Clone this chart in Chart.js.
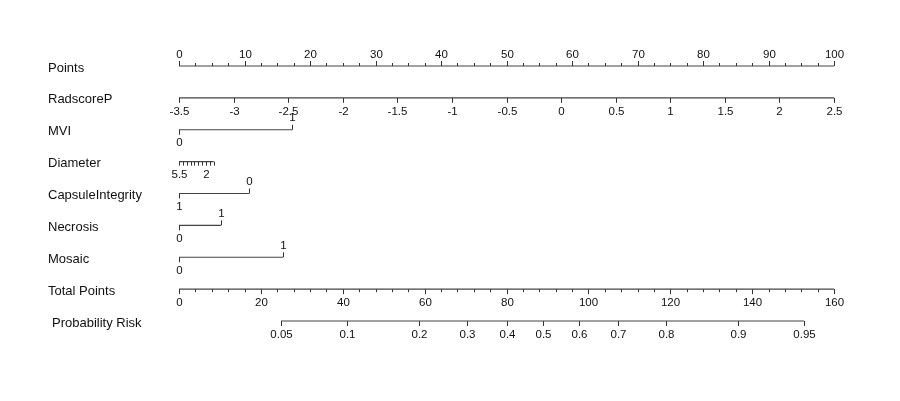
<!DOCTYPE html>
<html>
<head>
<meta charset="utf-8">
<script src="https://cdn.jsdelivr.net/npm/chart.js@4.4.1/dist/chart.umd.min.js"></script>
<style>
  html, body { margin: 0; padding: 0; background: #fff; }
</style>
</head>
<body>
<canvas id="nomo" width="900" height="401"></canvas>
<script>
// row names, top to bottom
const rowLabels = ['Points', 'RadscoreP', 'MVI', 'Diameter', 'CapsuleIntegrity', 'Necrosis', 'Mosaic', 'Total Points', 'Probability Risk'];

// Points axis (0..100)
const pointTicks = [0, 10, 20, 30, 40, 50, 60, 70, 80, 90, 100];
const pointMinorStep = 2.5;

// RadscoreP: -3.5 -> 0 points, 2.5 -> 100 points
const radscoreTicks = [-3.5, -3, -2.5, -2, -1.5, -1, -0.5, 0, 0.5, 1, 1.5, 2, 2.5];
const radscoreRange = [-3.5, 2.5];

// categorical predictors: level label and its points
const mviLevels = ['0', '1'];
const mviPoints = [0, 17.3];
const capsuleLevels = ['1', '0'];
const capsulePoints = [0, 10.7];
const necrosisLevels = ['0', '1'];
const necrosisPoints = [0, 6.4];
const mosaicLevels = ['0', '1'];
const mosaicPoints = [0, 15.9];

// Diameter (reversed): 5.5 -> 0 points, 1 -> 5.3 points
const diameterTicks = [5.5, 5, 4.5, 4, 3.5, 3, 2.5, 2, 1.5, 1];
const diameterShown = [5.5, 2];
const diameterRange = [5.5, 1];
const diameterPoints = [0, 5.3];

// Total points (0..160)
const totalTicks = [0, 20, 40, 60, 80, 100, 120, 140, 160];
const totalMinorStep = 4;
const totalMax = 160;

// Probability risk on the total points scale (logistic)
const riskTicks = [0.05, 0.1, 0.2, 0.3, 0.4, 0.5, 0.6, 0.7, 0.8, 0.9, 0.95];
const riskMidTotal = 88.8;   // total points at risk 0.5
const riskSlope = 21.7;      // total points per logit unit

// --- conversions to the Points scale ---
function fromRadscore(v) {
    return (v - radscoreRange[0]) / (radscoreRange[1] - radscoreRange[0]) * 100;
}
function fromDiameter(v) {
    return (diameterRange[0] - v) / (diameterRange[0] - diameterRange[1]) * diameterPoints[1];
}
function fromTotal(t) {
    return t / totalMax * 100;
}
function fromRisk(p) {
    return fromTotal(riskMidTotal + riskSlope * Math.log(p / (1 - p)));
}

// tick rows: row index, ticks {x, label, dir (-1 up, 1 down), len}
function buildTickRows() {
    const rows = [];

    let t = [];
    for (let v = 0; v <= 100; v += pointMinorStep) {
        const major = pointTicks.includes(v);
        t.push({ x: v, label: major ? String(v) : '', dir: -1, len: major ? 5 : 3 });
    }
    rows.push({ row: 0, ticks: t });

    rows.push({ row: 1, ticks: radscoreTicks.map(v => ({ x: fromRadscore(v), label: String(v), dir: 1, len: 5 })) });

    const binary = (row, levels, pts) => ({
        row: row,
        ticks: levels.map((l, i) => ({ x: pts[i], label: l, dir: i === 0 ? 1 : -1, len: 5 }))
    });
    rows.push(binary(2, mviLevels, mviPoints));

    rows.push({ row: 3, ticks: diameterTicks.map(v => ({
        x: fromDiameter(v), label: diameterShown.includes(v) ? String(v) : '', dir: 1, len: 4
    })) });

    rows.push(binary(4, capsuleLevels, capsulePoints));
    rows.push(binary(5, necrosisLevels, necrosisPoints));
    rows.push(binary(6, mosaicLevels, mosaicPoints));

    t = [];
    for (let v = 0; v <= totalMax; v += totalMinorStep) {
        const major = totalTicks.includes(v);
        t.push({ x: fromTotal(v), label: major ? String(v) : '', dir: 1, len: major ? 5 : 3 });
    }
    rows.push({ row: 7, ticks: t });

    rows.push({ row: 8, ticks: riskTicks.map(p => ({ x: fromRisk(p), label: String(p), dir: 1, len: 5 })) });
    return rows;
}
const tickRows = buildTickRows();

// axis line per row: from first to last tick
function axisDataset(r) {
    const xs = r.ticks.map(k => k.x);
    return {
        data: [{ x: Math.min(...xs), y: r.row }, { x: Math.max(...xs), y: r.row }],
        borderColor: '#444',
        borderWidth: 1.2,
        pointRadius: 0,
        showLine: true,
        clip: false
    };
}

const nomogramPlugin = {
    id: 'nomogram',
    afterDatasetsDraw(chart) {
        const ctx = chart.ctx;
        const xs = chart.scales.x;
        const ys = chart.scales.y;
        ctx.save();

        ctx.fillStyle = '#111';
        ctx.textBaseline = 'middle';
        ctx.textAlign = 'left';
        ctx.font = '13px "Liberation Sans", Arial, sans-serif';
        rowLabels.forEach((name, i) => {
            const indent = i === rowLabels.length - 1 ? 4 : 0;
            ctx.fillText(name, 48 + indent, ys.getPixelForValue(i) + 2);
        });

        ctx.strokeStyle = '#333';
        ctx.lineWidth = 1;
        ctx.textAlign = 'center';
        ctx.font = '11.5px "Liberation Sans", Arial, sans-serif';
        tickRows.forEach(r => {
            const y = ys.getPixelForValue(r.row);
            r.ticks.forEach(k => {
                const x = Math.round(xs.getPixelForValue(k.x)) + 0.5;
                ctx.beginPath();
                ctx.moveTo(x, y);
                ctx.lineTo(x, y + k.dir * k.len);
                ctx.stroke();
                if (k.label) {
                    ctx.fillText(k.label, x, y + (k.dir > 0 ? 13.5 : -11.5));
                }
            });
        });
        ctx.restore();
    }
};

new Chart(document.getElementById('nomo'), {
    type: 'scatter',
    data: { datasets: tickRows.map(axisDataset) },
    options: {
        responsive: false,
        animation: false,
        devicePixelRatio: 1,
        layout: { padding: { left: 179, right: 66, top: 66, bottom: 80 } },
        plugins: { legend: { display: false }, tooltip: { enabled: false } },
        scales: {
            x: { type: 'linear', min: 0, max: 100, display: false },
            y: { type: 'linear', min: 0, max: 8, reverse: true, display: false }
        }
    },
    plugins: [nomogramPlugin]
});
</script>
</body>
</html>
